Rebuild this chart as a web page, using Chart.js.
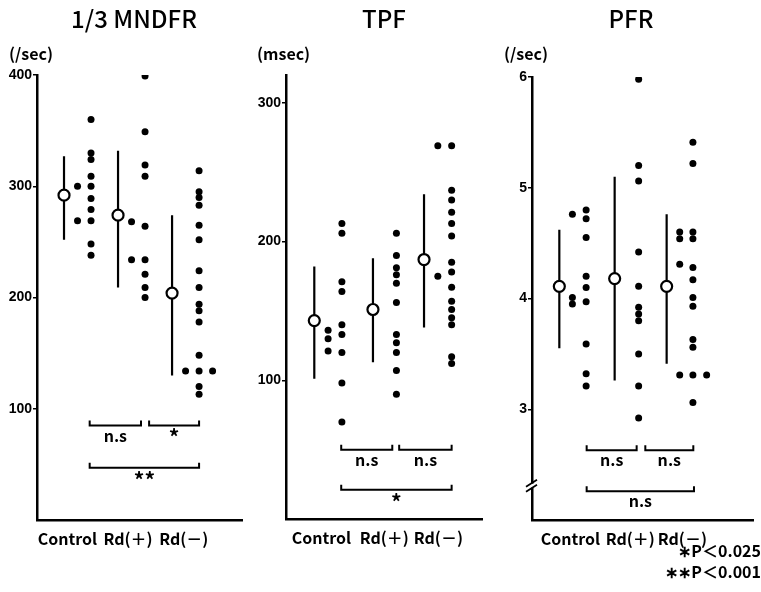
<!DOCTYPE html>
<html>
<head>
<meta charset="utf-8">
<title>MNDFR TPF PFR</title>
<script src="https://cdn.jsdelivr.net/npm/chart.js@4.4.0/dist/chart.umd.min.js"></script>
<style>
  body { margin: 0; background: #fff; }
  #wrap { position: relative; width: 761px; height: 592px; }
  canvas { position: absolute; top: 0; }
</style>
</head>
<body>
<div id="wrap">
  <canvas id="c1" width="250" height="592" style="left:0px"></canvas>
  <canvas id="c2" width="250" height="592" style="left:250px"></canvas>
  <canvas id="c3" width="261" height="592" style="left:500px"></canvas>
</div>
<script>
var groups = ['Control', 'Rd(＋)', 'Rd(－)'];

// 1/3 MNDFR (/sec)
var mndfrTicks = [100, 200, 300, 400];
var mndfrMean = [292, 274, 204];
var mndfrHigh = [327, 332, 274];
var mndfrLow = [252, 209, 130];
var mndfrCtrlA = [300, 269];
var mndfrCtrlB = [360, 330, 324, 309, 300, 289, 279, 269, 248, 238];
var mndfrRdpA = [268, 234];
var mndfrRdpB = [399, 349, 319, 309, 264, 234, 221, 209, 200];
var mndfrRdmA = [134];
var mndfrRdmB = [314, 295, 290, 283, 265, 252, 224, 209, 194, 188, 178, 148, 134, 120, 113];
var mndfrRdmC = [134];
var mndfrSig = ['n.s', '*', '**'];

// TPF (msec)
var tpfTicks = [100, 200, 300];
var tpfMean = [143, 151, 187];
var tpfHigh = [182, 188, 234];
var tpfLow = [101, 113, 138];
var tpfCtrlA = [136, 130, 121];
var tpfCtrlB = [213, 206, 171, 164, 140, 133, 120, 98, 70];
var tpfRdpB = [206, 190, 181, 176, 170, 156, 133, 127, 120, 107, 90];
var tpfRdmA = [269, 175];
var tpfRdmB = [269, 237, 230, 221, 213, 204, 185, 178, 167, 157, 151, 145, 140, 117, 112];
var tpfSig = ['n.s', 'n.s', '*'];

// PFR (/sec)
var pfrTicks = [3, 4, 5, 6];
var pfrMean = [4.11, 4.18, 4.11];
var pfrHigh = [4.62, 5.10, 4.76];
var pfrLow = [3.55, 3.26, 3.41];
var pfrCtrlA = [4.76, 4.01, 3.95];
var pfrCtrlB = [4.80, 4.72, 4.55, 4.20, 4.10, 3.97, 3.59, 3.32, 3.21];
var pfrRdpB = [5.98, 5.20, 5.06, 4.42, 4.11, 3.92, 3.86, 3.80, 3.50, 3.21, 2.92];
var pfrRdmA = [4.60, 4.54, 4.31, 3.31];
var pfrRdmB = [5.41, 5.22, 4.60, 4.54, 4.28, 4.17, 4.01, 3.93, 3.63, 3.56, 3.31, 3.06];
var pfrRdmC = [3.31];
var pfrSig = ['n.s', 'n.s', 'n.s'];

var tickFont = { family: "'Liberation Sans', Arial, sans-serif", weight: 'bold', size: 14 };
var labelFont = { family: "'Noto Sans CJK JP', 'Noto Sans', sans-serif", weight: 'bold', size: 16 };
var jp = "'Noto Sans CJK JP', 'Noto Sans', sans-serif";

// draws titles, units, brackets, notes
var extras = {
  id: 'extras',
  afterDraw: function(chart) {
    var o = chart.options.plugins.extras;
    var ctx = chart.ctx;
    var xs = chart.scales.x, ys = chart.scales.y;
    ctx.save();
    ctx.fillStyle = '#000';
    ctx.strokeStyle = '#000';
    ctx.textBaseline = 'middle';

    ctx.font = '500 24px ' + jp;
    ctx.textAlign = 'center';
    ctx.fillText(o.title, o.titleX, 19);

    ctx.font = 'bold 16px ' + jp;
    ctx.textAlign = 'left';
    ctx.fillText(o.unit, o.unitX, 54);

    ctx.lineWidth = 2;
    o.brackets.forEach(function(b, i) {
      var x1 = xs.getPixelForValue(b[0]), x2 = xs.getPixelForValue(b[1]);
      var y = ys.getPixelForValue(b[2]);
      ctx.beginPath();
      ctx.moveTo(x1, y - 5);
      ctx.lineTo(x1, y);
      ctx.lineTo(x2, y);
      ctx.lineTo(x2, y - 5);
      ctx.stroke();
      var txt = o.sig[i];
      ctx.textAlign = 'center';
      if (txt == 'n.s') {
        ctx.font = 'bold 16px ' + jp;
        ctx.fillText(txt, (x1 + x2) / 2, y + 10);
      } else {
        ctx.font = 'bold 21px ' + jp;
        ctx.fillText(txt, (x1 + x2) / 2, y + 12);
      }
    });

    if (o.axisBreak) {
      var ax = chart.chartArea.left, by = ys.getPixelForValue(o.axisBreak);
      ctx.fillStyle = '#fff';
      ctx.fillRect(ax - 2, by - 2, 4, 4);
      ctx.lineWidth = 1.8;
      ctx.beginPath();
      ctx.moveTo(ax - 6, by + 1); ctx.lineTo(ax + 5, by - 6);
      ctx.moveTo(ax - 6, by + 6); ctx.lineTo(ax + 5, by - 1);
      ctx.stroke();
      ctx.fillStyle = '#000';
    }

    if (o.notes) {
      ctx.font = 'bold 16px ' + jp;
      ctx.textAlign = 'right';
      ctx.fillText('∗P＜0.025', chart.width, 551);
      ctx.fillText('∗∗P＜0.001', chart.width, 572);
    }
    ctx.restore();
  }
};

function pts(x, vals) {
  return vals.map(function(v) { return { x: x, y: v }; });
}

function makePanel(id, p) {
  var datasets = [];
  p.meanX.forEach(function(mx, i) {
    datasets.push({
      type: 'line', data: [{ x: mx, y: p.high[i] }, { x: mx, y: p.low[i] }],
      borderColor: '#000', borderWidth: 2.2, pointRadius: 0, order: 3
    });
  });
  p.cols.forEach(function(c) {
    datasets.push({
      type: 'scatter', data: pts(c[0], c[1]),
      backgroundColor: '#000', borderWidth: 0, pointRadius: 3.5, order: 2
    });
  });
  datasets.push({
    type: 'scatter',
    data: p.meanX.map(function(mx, i) { return { x: mx, y: p.mean[i] }; }),
    backgroundColor: '#fff', borderColor: '#000', borderWidth: 2.2, pointRadius: 5.5, order: 1
  });

  return new Chart(document.getElementById(id), {
    type: 'scatter',
    data: { datasets: datasets },
    plugins: [extras],
    options: {
      responsive: false,
      animation: false,
      devicePixelRatio: 1,
      layout: { padding: { top: p.top, bottom: 592 - p.bottom - 30, left: 0, right: p.right } },
      plugins: {
        legend: { display: false },
        tooltip: { enabled: false },
        extras: p.extras
      },
      scales: {
        x: {
          type: 'linear', min: 0, max: p.xMax,
          grid: { display: false },
          border: { display: true, color: '#000', width: 2.5 },
          afterBuildTicks: function(s) { s.ticks = p.labelX.map(function(v) { return { value: v }; }); },
          afterFit: function(s) { s.height = 30; },
          ticks: {
            autoSkip: false, maxRotation: 0, padding: 1,
            color: '#000', font: labelFont,
            callback: function(v, i) { return groups[i]; }
          }
        },
        y: {
          type: 'linear', min: p.yMin, max: p.yMax,
          grid: { display: true, drawOnChartArea: false, drawTicks: true, tickLength: 4, color: '#000', lineWidth: 1.5 },
          border: { display: true, color: '#000', width: 2.5 },
          afterBuildTicks: function(s) { s.ticks = p.ticks.map(function(v) { return { value: v }; }); },
          afterFit: function(s) { s.width = p.axisW; },
          ticks: { color: '#000', font: tickFont, padding: 1 }
        }
      }
    }
  });
}

makePanel('c1', {
  top: 75, bottom: 520, right: 3, axisW: 37, xMax: 15.2,
  yMin: 0, yMax: 400, ticks: mndfrTicks,
  meanX: [2, 6, 10], mean: mndfrMean, high: mndfrHigh, low: mndfrLow,
  labelX: [2.25, 6.74, 10.87],
  cols: [[3, mndfrCtrlA], [4, mndfrCtrlB], [7, mndfrRdpA], [8, mndfrRdpB],
         [11, mndfrRdmA], [12, mndfrRdmB], [13, mndfrRdmC]],
  extras: {
    title: '1/3 MNDFR', titleX: 134, unit: '(/sec)', unitX: 9, sig: mndfrSig,
    brackets: [[3.9, 7.7, 85], [8.3, 12, 85], [3.9, 12, 47]]
  }
});

makePanel('c2', {
  top: 75, bottom: 519, right: 18, axisW: 36, xMax: 14.2,
  yMin: 0, yMax: 320, ticks: tpfTicks,
  meanX: [2.05, 6.3, 10], mean: tpfMean, high: tpfHigh, low: tpfLow,
  labelX: [2.56, 7.12, 11.04],
  cols: [[3.05, tpfCtrlA], [4.05, tpfCtrlB], [8, tpfRdpB], [11, tpfRdmA], [12, tpfRdmB]],
  extras: {
    title: 'TPF', titleX: 134, unit: '(msec)', unitX: 7, sig: tpfSig,
    brackets: [[4, 7.7, 50], [8.2, 12, 50], [4, 12, 21]]
  }
});

makePanel('c3', {
  top: 77, bottom: 520, right: 0, axisW: 32, xMax: 16.6,
  yMin: 2, yMax: 6, ticks: pfrTicks,
  meanX: [2.05, 6.2, 10.1], mean: pfrMean, high: pfrHigh, low: pfrLow,
  labelX: [2.88, 7.37, 11.28],
  cols: [[3.03, pfrCtrlA], [4.06, pfrCtrlB], [8, pfrRdpB], [11.08, pfrRdmA],
         [12.07, pfrRdmB], [13.1, pfrRdmC]],
  extras: {
    title: 'PFR', titleX: 131, unit: '(/sec)', unitX: 4, sig: pfrSig,
    brackets: [[4.1, 7.85, 2.63], [8.5, 12.1, 2.63], [4.1, 12.15, 2.26]],
    axisBreak: 2.31, notes: true
  }
});
</script>
</body>
</html>
